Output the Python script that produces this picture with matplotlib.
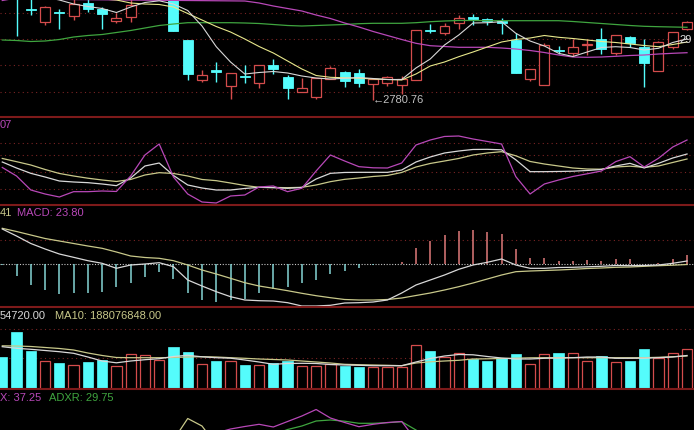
import numpy as np
import matplotlib.pyplot as plt
from matplotlib.patches import Rectangle

plt.rcParams['font.family'] = ['Liberation Sans', 'DejaVu Sans']

# --- K线数据 (49 根) ---
opens = [3030, 3024, 2962, 2936.6, 2955.4, 2948.6, 2974.6, 2961.4, 2938.6, 2945.4,
         2986, 3000, 3016, 2900, 2820, 2840, 2808, 2828, 2813.4, 2850,
         2826.6, 2796.6, 2786.6, 2822, 2836.6, 2834.6, 2811.4, 2814.6, 2810, 2820,
         2921, 2913.4, 2934.6, 2946.6, 2941.4, 2938.6, 2900, 2821.4, 2810, 2879.6,
         2873.4, 2889.6, 2901.4, 2873.4, 2905.4, 2885.4, 2838.6, 2886.6, 2921.4]
closes = [2996, 2984, 2960, 2965.4, 2953.4, 2972, 2961.4, 2952, 2943.4, 2970,
          3004, 3022, 2918, 2832, 2830, 2837, 2834.6, 2825.4, 2850, 2842,
          2803.4, 2804.6, 2823.4, 2843.4, 2818.6, 2814.6, 2822, 2825.4, 2821.4, 2920,
          2919, 2928.6, 2943.4, 2941.4, 2938.6, 2933.4, 2833.4, 2841.4, 2890, 2877.6,
          2885.4, 2891.6, 2881.4, 2910, 2894.6, 2854.6, 2896.6, 2916.6, 2936.6]
highs = [3040, 3032, 2984, 2968, 2961.4, 2982, 2982, 2965.4, 2954.6, 2982,
         3008, 3028, 3020, 2900, 2840, 2856.6, 2834.6, 2850, 2850, 2861.4,
         2830, 2823.4, 2823.4, 2848, 2838.6, 2841.4, 2822, 2828, 2828, 2920,
         2932, 2933.4, 2950, 2952, 2943.4, 2943.4, 2914.6, 2841.4, 2894.6, 2888,
         2901.4, 2901.4, 2923.4, 2910, 2908, 2901.4, 2899, 2916.6, 2939]
lows = [2986, 2908, 2950, 2930, 2921.4, 2940, 2956.6, 2921.4, 2934.6, 2936.6,
        2982, 2996, 2918, 2820, 2816.6, 2816.6, 2781.5, 2813.4, 2803.4, 2832,
        2782, 2796.6, 2781.4, 2822, 2805.4, 2805.4, 2780.76, 2808, 2792, 2820,
        2913.4, 2910, 2921.4, 2930, 2930, 2912, 2833.4, 2818.6, 2810, 2872,
        2868, 2870, 2872, 2870, 2885.4, 2805.4, 2838.6, 2881.4, 2920]

ma5 = [3020, 3008, 2996, 2986, 2980, 2972, 2967, 2963, 2955, 2966,
       2975, 2978.4, 2972, 2959, 2928, 2886.6, 2856, 2832, 2835, 2837,
       2834, 2828, 2824, 2822, 2823.4, 2825, 2823, 2821, 2821, 2844,
       2862, 2890, 2910, 2934, 2934.6, 2936.6, 2913.4, 2898, 2888, 2873.4,
       2867, 2876, 2885, 2886.6, 2885, 2880, 2883.4, 2895, 2902]
ma10 = [3040, 3030, 3020, 3010, 3000, 2992, 2986, 2982, 2980, 2974,
        2972, 2971, 2966, 2953, 2940, 2927, 2916, 2902, 2887, 2874,
        2858, 2842, 2829, 2825.4, 2824.4, 2823.6, 2822, 2821, 2820, 2832,
        2848, 2856, 2866.6, 2876, 2886, 2896, 2901, 2904, 2909, 2905.4,
        2903, 2900, 2897, 2895, 2892, 2889, 2886.6, 2891, 2896]
ma30 = [2979, 2984, 2988, 2992, 2996, 2998, 3000, 3002, 3002, 3002,
        3000, 2998, 2996, 2994, 2990, 2986, 2982, 2978, 2974, 2968,
        2963, 2958, 2950, 2943, 2934, 2926, 2917, 2909, 2901, 2893.4,
        2888.6, 2887, 2885.4, 2885.4, 2885.4, 2884, 2882, 2879, 2875, 2870,
        2866, 2865.4, 2866, 2867.4, 2869, 2870, 2872, 2873.4, 2874.6]
ma60 = [2900, 2899, 2897, 2898, 2901, 2906, 2909, 2911, 2915, 2919,
        2924, 2929, 2932, 2934.6, 2934.6, 2934.6, 2934.6, 2934, 2933, 2931,
        2929, 2928, 2929, 2930, 2931, 2932.6, 2933.4, 2933.4, 2933.4, 2934.6,
        2936.6, 2938, 2939, 2939, 2938.6, 2938.6, 2938.6, 2938.6, 2938.6, 2938.6,
        2937, 2935, 2933, 2931, 2929, 2927.4, 2926.6, 2926, 2925.4]

# --- KDJ ---
k_vals = [57, 48, 40, 34.5, 28.5, 27, 26, 24, 21.5, 33,
          51, 55.5, 36.8, 22.5, 18, 15, 15, 17.3, 19, 18.5,
          17.5, 18.8, 31.5, 40, 41.3, 41.5, 41.5, 41.5, 45, 57,
          64.5, 70.5, 73.5, 75.8, 76, 75.3, 60.3, 42.5, 42.5, 42.8,
          43.2, 44.3, 45.8, 51, 55, 48, 55, 63, 69]
d_vals = [62.3, 57.5, 52.5, 45.8, 39.8, 36, 32.7, 30, 27.8, 30.8,
          37.5, 41, 39.8, 36, 30.8, 29, 25.5, 21.8, 19, 18.8,
          18.5, 19, 22.5, 27.5, 31, 33, 35.3, 36.8, 41.3, 49.5,
          54.8, 58.5, 62.3, 67.5, 70.5, 72.5, 66.3, 57.8, 54, 51,
          48, 46.5, 46.2, 49.5, 50.7, 49, 51, 56.3, 61.5]
j_vals = [48.8, 36.0, 15.0, 9.0, 4.5, 12.5, 12.5, 13.5, 12.8, 36.0,
          67.5, 84.0, 34.5, 9.0, -3.0, -4.5, 6.0, 7.5, 19.5, 21.0,
          12.5, 17.6, 43.5, 67.5, 58.5, 50.0, 48.3, 48.0, 55.5, 82.5,
          90.0, 95.3, 96.0, 91.5, 87.8, 84.0, 35.0, 9.0, 24.0, 30.0,
          35.3, 39.3, 43.5, 57.5, 65.0, 49.5, 62.6, 79.5, 90.0]

# --- MACD ---
dif = [91, 72.8, 53.3, 39, 26, 17.4, 8.6, 1.8, -11.2, -2.6,
       0, 3.4, -7, -41.6, -57.2, -72, -85, -93.6, -95.4, -96.2,
       -100.6, -109.2, -109.2, -107.4, -101.4, -100.6, -98.8, -93.6, -75.4, -54.6,
       -41.6, -28.6, -13.8, -2.6, 4.4, 13, -2.6, -11.2, -11.2, -9.1,
       -8.6, -7.3, -6, -3.9, -4.4, -3.9, -2.6, 1.8, 7.8]
dea = [92.8, 84.5, 75.4, 66.3, 59.8, 53.3, 46.8, 40.8, 31.2, 20.8,
       16.9, 14.8, 8.6, -2.6, -15.6, -26, -37.2, -48.6, -57.2, -63.2,
       -69.4, -76.2, -82.4, -87.6, -92.3, -93.6, -93.6, -92.3, -88.4, -81.9,
       -75.4, -67.6, -59, -49.4, -39, -28.6, -20, -18.2, -16.9, -15.6,
       -13.8, -11.7, -10.4, -8.6, -7.8, -6, -4.4, -3.1, -1.3]
macd = [-1.3, -31.2, -54.6, -67.6, -78, -74.6, -74.6, -72, -60.6, -50.2,
        -34.6, -20, -39.8, -74.6, -93.6, -98, -93.6, -91.8, -76.2, -65.8,
        -60.6, -48.6, -41.6, -26, -17.4, -11.2, -3.4, 0.8, 6, 40.8,
        60.6, 75.4, 85.8, 88.4, 84, 78, 38.2, 14.8, 14.8, 7.8,
        7.8, 10.4, 7.8, 12.2, 12.2, 1.3, 3.4, 12.2, 23.8]

# --- 成交量 (百万) ---
volume = [180.7, 323.2, 218.3, 159.6, 146.5, 136.8, 155.6, 165.3, 131.1, 197.8,
          193.8, 165.3, 241.1, 209.2, 140.8, 159.6, 159.6, 136.8, 136.8, 146.5,
          159.6, 131.1, 131.1, 140.8, 132.8, 127.1, 127.1, 127.1, 127.1, 250.8,
          218.3, 184.1, 203.5, 169.3, 159.6, 175, 197.8, 140.8, 197.8, 203.5,
          203.5, 159.6, 189.8, 152.2, 159.6, 226.3, 178.4, 203.5, 226.3]
vol_ma5 = [241.1, 232, 226.3, 219.5, 212.6, 203.5, 182.4, 159.6, 149.3, 159.6,
           167, 172.7, 185.3, 192.1, 183.5, 178.4, 175.6, 165.3, 153.9, 140.8,
           145.4, 146.5, 145.4, 139.7, 136.8, 135.1, 132.8, 132.8, 132.8, 153.9,
           173.9, 188.1, 196.7, 194.9, 185.3, 176.7, 171, 171, 175, 176.7,
           178.4, 182.4, 182.4, 175, 175, 175.6, 178.4, 182.4, 191]
vol_ma10 = [246.2, 245.1, 242.3, 236.6, 230.9, 222.3, 205.2, 191, 179.6, 178.4,
            178.4, 178.4, 179.6, 182.4, 184.1, 182.4, 178.4, 175, 171, 168.2,
            165.3, 159.6, 153.9, 148.2, 140.8, 138.5, 136.8, 135.1, 132.8, 148.2,
            155, 159.6, 163.6, 171, 172.1, 173.9, 175.6, 177.8, 178.4, 178.4,
            178.4, 178.4, 178.4, 178.4, 178.4, 178.4, 180.7, 184.1, 188.1]

# --- DMI ---
nan = np.nan
pdi = [nan] * 12 + [10, 31.5, 24, 5] + [nan] * 33
adx = [nan] * 14 + [5, 17, 21, 23.5, 25.7, 23, 28.5, 34, 40.5, 32,
                    27.5, 23.3, 25.7, 27.5, 28.5, 10] + [nan] * 19
adxr = [nan] * 19 + [15, 20.5, 24, 29, 30, 28.8, 26.7, 26.7, 27.3, 28.3,
                     20, 10] + [nan] * 18

UP = '#d44c4c'
DOWN = '#54fcfc'
WHITE = '#d8d8d8'
YELLOW = '#e8e88c'
KHAKI = '#c8c88a'
MAGENTA = '#b848b8'
GREEN = '#3fa53f'
BORDER = '#7d1a1a'
GRID = '#7a2424'

W, H = 694, 430
fig = plt.figure(figsize=(W / 100, H / 100), dpi=100, facecolor='black')
x = np.arange(len(opens))


def panel(top_px, bottom_px, border=True):
    ax = fig.add_axes([0, 1 - bottom_px / H, 1, (bottom_px - top_px) / H])
    ax.set_facecolor('black')
    ax.set_xlim(-0.16, 48.49)
    ax.set_xticks([])
    ax.set_yticks([])
    for s in ax.spines.values():
        s.set_visible(False)
    if border:
        ax.spines['top'].set_visible(True)
        ax.spines['top'].set_color(BORDER)
        ax.spines['top'].set_linewidth(1.5)
    return ax


def grid(ax, levels):
    for lv in levels:
        ax.axhline(lv, color=GRID, lw=0.8, ls=(0, (1, 3)), zorder=0)


# 主图
ax1 = panel(0, 117, border=False)
ax1.set_ylim(2746, 2980)
grid(ax1, [2955, 2903, 2850, 2797])
for i in range(len(opens)):
    o, c, h, l = opens[i], closes[i], highs[i], lows[i]
    top, bot = max(o, c), min(o, c)
    if c >= o:
        ax1.vlines(i, top, h, color=UP, lw=1, zorder=2)
        ax1.vlines(i, l, bot, color=UP, lw=1, zorder=2)
        ax1.add_patch(Rectangle((i - 0.35, bot), 0.7, max(top - bot, 1), facecolor='black',
                                edgecolor=UP, lw=0.9, zorder=3))
    else:
        ax1.vlines(i, l, h, color=DOWN, lw=1, zorder=2)
        ax1.add_patch(Rectangle((i - 0.35, bot), 0.7, max(top - bot, 1.5), facecolor=DOWN,
                                edgecolor=DOWN, lw=0.6, zorder=3))
ax1.plot(x, ma60, color=GREEN, lw=0.9, zorder=4)
ax1.plot(x, ma30, color=MAGENTA, lw=0.9, zorder=4)
ax1.plot(x, ma10, color=YELLOW, lw=0.8, zorder=4)
ax1.plot(x, ma5, color=WHITE, lw=0.8, zorder=4)
low_i = int(np.argmin(lows))
ax1.text(low_i, lows[low_i], '←' + f'{lows[low_i]:.2f}', color='#c0c0c0', fontsize=8,
         ha='left', va='center', zorder=5)
ax1.text(47.45, 2900, '29', color='#e0e0e0', fontsize=8, ha='left', va='center', zorder=5)

# KDJ
ax2 = panel(117, 205)
ax2.set_ylim(-7.5, 124.5)
grid(ax2, [85, 67.5, 42.5, 16])
ax2.plot(x, d_vals, color=KHAKI, lw=0.9)
ax2.plot(x, k_vals, color=WHITE, lw=0.9)
ax2.plot(x, j_vals, color=MAGENTA, lw=0.9)

# MACD
ax3 = panel(205, 307)
ax3.set_ylim(-111.8, 153.4)
grid(ax3, [62.4])
ax3.axhline(0, color='#c8c8c8', lw=0.8, ls=(0, (1, 1.5)), zorder=1)
hist_colors = ['#e07a7a' if v > 0 else '#86d6d6' for v in macd]
ax3.vlines(x, 0, macd, colors=hist_colors, lw=1.1, zorder=2)
ax3.plot(x, dea, color=KHAKI, lw=0.9, zorder=3)
ax3.plot(x, dif, color=WHITE, lw=0.9, zorder=3)

# 成交量
ax4 = panel(307, 389)
ax4.set_ylim(0, 467.4)
grid(ax4, [342, 176.7])
for i in range(len(volume)):
    if closes[i] >= opens[i]:
        ax4.add_patch(Rectangle((i - 0.36, 0), 0.72, volume[i], facecolor='black',
                                edgecolor=UP, lw=0.9, zorder=2))
    else:
        ax4.add_patch(Rectangle((i - 0.36, 0), 0.72, volume[i], facecolor=DOWN,
                                edgecolor=DOWN, lw=0.5, zorder=2))
ax4.plot(x, vol_ma10, color=KHAKI, lw=0.9, zorder=3)
ax4.plot(x, vol_ma5, color=WHITE, lw=0.9, zorder=3)

# DMI
ax5 = panel(389, 430)
ax5.set_ylim(20, 61)
ax5.plot(x, pdi, color=KHAKI, lw=0.9)
ax5.plot(x, adxr, color=GREEN, lw=0.9)
ax5.plot(x, adx, color=MAGENTA, lw=0.9)

# 指标标题
def label(px, py, s, color):
    fig.text(px / W, 1 - py / H, s, color=color, fontsize=8, ha='left', va='center')


label(0, 125, '07', MAGENTA)
label(0, 213, '41', KHAKI)
label(17, 213, 'MACD: 23.80', MAGENTA)
label(0, 316, '54720.00', WHITE)
label(55, 316, 'MA10: 188076848.00', KHAKI)
label(0, 398, 'X: 37.25', MAGENTA)
label(49, 398, 'ADXR: 29.75', GREEN)

fig.savefig('out.png', dpi=100, facecolor='black')
